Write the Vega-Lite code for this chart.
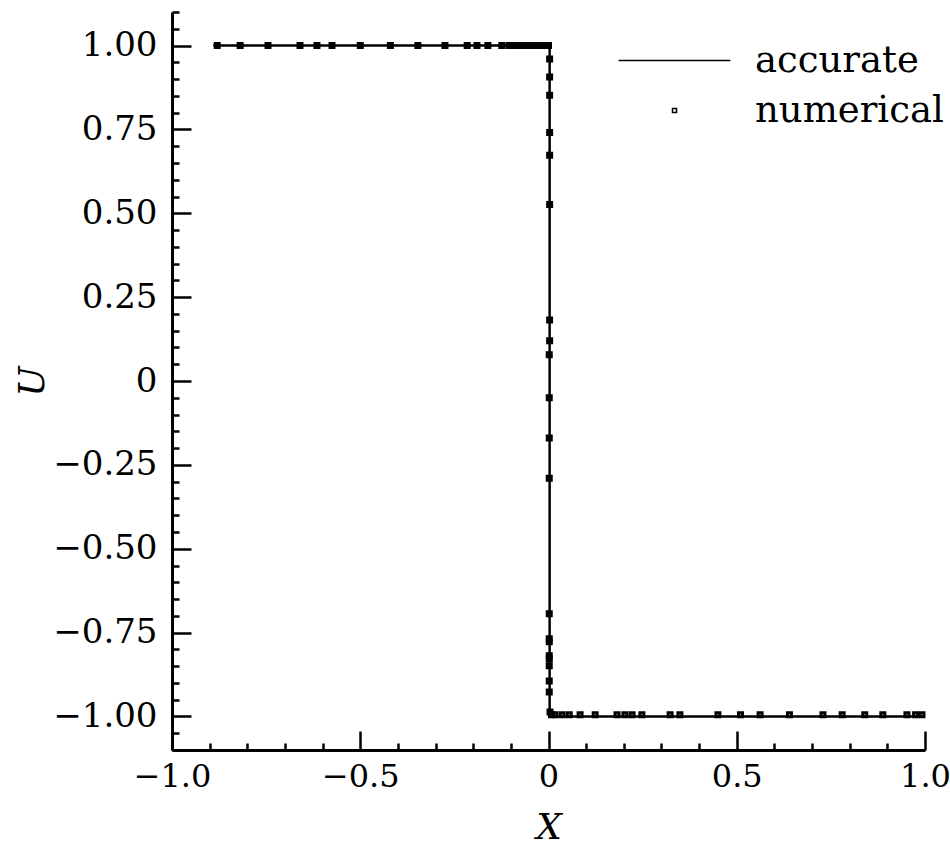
{
  "$schema": "https://vega.github.io/schema/vega-lite/v6.json",
  "width": 753,
  "height": 738,
  "autosize": "none",
  "padding": {"left": 172, "top": 12, "right": 25, "bottom": 104},
  "background": "white",
  "config": {
    "view": {"stroke": null},
    "font": "DejaVu Serif",
    "axis": {
      "domainColor": "black",
      "domainWidth": 3,
      "tickColor": "black",
      "tickWidth": 2.5,
      "labelColor": "black",
      "labelFont": "DejaVu Serif",
      "labelFontSize": 34,
      "labelFontWeight": "normal",
      "titleColor": "black",
      "titleFont": "DejaVu Serif",
      "titleFontSize": 36,
      "titleFontStyle": "italic",
      "titleFontWeight": "normal",
      "grid": false,
      "labelOverlap": false,
      "labelBound": false,
      "labelFlush": false,
      "tickCount": 200
    }
  },
  "resolve": {"axis": {"x": "independent", "y": "independent"}},
  "datasets": {
    "accurate": [
      {"i": 1, "x": -0.89, "u": 1.0, "series": "accurate"},
      {"i": 2, "x": 0.003, "u": 1.0, "series": "accurate"},
      {"i": 3, "x": 0.003, "u": -1.0, "series": "accurate"},
      {"i": 4, "x": 1.0, "u": -1.0, "series": "accurate"}
    ],
    "numericalLeft": [
      {"x": -0.88, "u": 1.0, "series": "numerical"},
      {"x": -0.819, "u": 1.0, "series": "numerical"},
      {"x": -0.745, "u": 1.0, "series": "numerical"},
      {"x": -0.66, "u": 1.0, "series": "numerical"},
      {"x": -0.615, "u": 1.0, "series": "numerical"},
      {"x": -0.575, "u": 1.0, "series": "numerical"},
      {"x": -0.5, "u": 1.0, "series": "numerical"},
      {"x": -0.42, "u": 1.0, "series": "numerical"},
      {"x": -0.347, "u": 1.0, "series": "numerical"},
      {"x": -0.275, "u": 1.0, "series": "numerical"},
      {"x": -0.216, "u": 1.0, "series": "numerical"},
      {"x": -0.19, "u": 1.0, "series": "numerical"},
      {"x": -0.161, "u": 1.0, "series": "numerical"},
      {"x": -0.124, "u": 1.0, "series": "numerical"},
      {"x": -0.105, "u": 1.0, "series": "numerical"},
      {"x": -0.09, "u": 1.0, "series": "numerical"},
      {"x": -0.075, "u": 1.0, "series": "numerical"},
      {"x": -0.06, "u": 1.0, "series": "numerical"},
      {"x": -0.045, "u": 1.0, "series": "numerical"},
      {"x": -0.03, "u": 1.0, "series": "numerical"},
      {"x": -0.018, "u": 1.0, "series": "numerical"},
      {"x": -0.008, "u": 1.0, "series": "numerical"},
      {"x": 0.0, "u": 1.0, "series": "numerical"},
      {"x": 0.003, "u": 0.96, "series": "numerical"},
      {"x": 0.003, "u": 0.906, "series": "numerical"},
      {"x": 0.003, "u": 0.852, "series": "numerical"},
      {"x": 0.003, "u": 0.741, "series": "numerical"},
      {"x": 0.003, "u": 0.673, "series": "numerical"},
      {"x": 0.003, "u": 0.526, "series": "numerical"},
      {"x": 0.003, "u": 0.182, "series": "numerical"},
      {"x": 0.003, "u": 0.12, "series": "numerical"},
      {"x": 0.002, "u": 0.078, "series": "numerical"},
      {"x": 0.002, "u": -0.05, "series": "numerical"},
      {"x": 0.002, "u": -0.17, "series": "numerical"},
      {"x": 0.002, "u": -0.29, "series": "numerical"},
      {"x": 0.002, "u": -0.694, "series": "numerical"},
      {"x": 0.002, "u": -0.768, "series": "numerical"},
      {"x": 0.002, "u": -0.777, "series": "numerical"},
      {"x": 0.002, "u": -0.819, "series": "numerical"},
      {"x": 0.002, "u": -0.828, "series": "numerical"},
      {"x": 0.002, "u": -0.849, "series": "numerical"},
      {"x": 0.002, "u": -0.894, "series": "numerical"},
      {"x": 0.002, "u": -0.927, "series": "numerical"},
      {"x": 0.004, "u": -0.987, "series": "numerical"}
    ],
    "numericalRight": [
      {"x": 0.008, "u": -0.995, "series": "numerical"},
      {"x": 0.017, "u": -0.995, "series": "numerical"},
      {"x": 0.036, "u": -0.995, "series": "numerical"},
      {"x": 0.055, "u": -0.995, "series": "numerical"},
      {"x": 0.084, "u": -0.995, "series": "numerical"},
      {"x": 0.124, "u": -0.995, "series": "numerical"},
      {"x": 0.182, "u": -0.995, "series": "numerical"},
      {"x": 0.203, "u": -0.995, "series": "numerical"},
      {"x": 0.222, "u": -0.995, "series": "numerical"},
      {"x": 0.248, "u": -0.995, "series": "numerical"},
      {"x": 0.323, "u": -0.995, "series": "numerical"},
      {"x": 0.349, "u": -0.995, "series": "numerical"},
      {"x": 0.45, "u": -0.995, "series": "numerical"},
      {"x": 0.51, "u": -0.995, "series": "numerical"},
      {"x": 0.562, "u": -0.995, "series": "numerical"},
      {"x": 0.64, "u": -0.995, "series": "numerical"},
      {"x": 0.729, "u": -0.995, "series": "numerical"},
      {"x": 0.78, "u": -0.995, "series": "numerical"},
      {"x": 0.84, "u": -0.995, "series": "numerical"},
      {"x": 0.888, "u": -0.995, "series": "numerical"},
      {"x": 0.952, "u": -0.995, "series": "numerical"},
      {"x": 0.975, "u": -0.995, "series": "numerical"},
      {"x": 0.992, "u": -0.995, "series": "numerical"}
    ]
  },
  "layer": [
    {
      "data": {"name": "accurate"},
      "mark": {"type": "line", "color": "black", "strokeWidth": 2.5},
      "encoding": {
        "x": {
          "field": "x",
          "type": "quantitative",
          "scale": {"domain": [-1, 1], "nice": false, "zero": false},
          "axis": {
            "orient": "bottom",
            "title": "X",
            "values": [-1, -0.5, 0, 0.5, 1],
            "labelExpr": "datum.value == 0 ? '0' : replace(format(datum.value, '.1f'), '-', '\u2212')",
            "labelFontSize": 32,
            "ticks": false,
            "tickSize": 0,
            "labelPadding": 11,
            "titlePadding": 18
          }
        },
        "y": {
          "field": "u",
          "type": "quantitative",
          "scale": {"domain": [-1.1, 1.1], "nice": false, "zero": false},
          "axis": {
            "orient": "left",
            "title": "U",
            "values": [-1, -0.75, -0.5, -0.25, 0, 0.25, 0.5, 0.75, 1],
            "labelExpr": "datum.value == 0 ? '0' : replace(format(datum.value, '.2f'), '-', '\u2212')",
            "ticks": false,
            "tickSize": 0,
            "labelPadding": 15,
            "titlePadding": 1
          }
        },
        "order": {"field": "i", "type": "quantitative"}
      }
    },
    {
      "data": {"name": "numericalLeft"},
      "mark": {"type": "point", "filled": false, "color": "black", "opacity": 1, "strokeWidth": 3},
      "encoding": {
        "x": {
          "field": "x",
          "type": "quantitative",
          "axis": {
            "orient": "top",
            "offset": -738,
            "title": null,
            "labels": false,
            "domain": false,
            "values": [-1, -0.5, 0, 0.5, 1],
            "tickSize": 19
          }
        },
        "y": {
          "field": "u",
          "type": "quantitative",
          "axis": {
            "orient": "right",
            "offset": -753,
            "title": null,
            "labels": false,
            "domain": false,
            "values": [-1, -0.75, -0.5, -0.25, 0, 0.25, 0.5, 0.75, 1],
            "tickSize": 19
          }
        },
        "shape": {
          "field": "series",
          "type": "nominal",
          "scale": {"domain": ["accurate", "numerical"], "range": ["M-5,0L5,0", "square"]},
          "legend": {
            "title": null,
            "orient": "none",
            "legendX": 484,
            "legendY": 30,
            "labelFont": "DejaVu Serif",
            "labelFontSize": 37,
            "labelColor": "black",
            "labelOffset": 62,
            "labelLimit": 400,
            "rowPadding": 12,
            "symbolStrokeColor": "black",
            "symbolStrokeWidth": 1.5,
            "symbolOpacity": 1
          }
        },
        "size": {
          "field": "series",
          "type": "nominal",
          "scale": {"domain": ["accurate", "numerical"], "range": [500, 16]}
        }
      }
    },
    {
      "data": {"name": "numericalRight"},
      "mark": {"type": "point", "filled": false, "color": "black", "opacity": 1, "strokeWidth": 3},
      "encoding": {
        "x": {
          "field": "x",
          "type": "quantitative",
          "axis": {
            "orient": "top",
            "offset": -738,
            "title": null,
            "labels": false,
            "domain": false,
            "values": [-0.9, -0.8, -0.7, -0.6, -0.4, -0.3, -0.2, -0.1, 0.1, 0.2, 0.3, 0.4, 0.6, 0.7, 0.8, 0.9],
            "tickSize": 7
          }
        },
        "y": {
          "field": "u",
          "type": "quantitative",
          "axis": {
            "orient": "right",
            "offset": -753,
            "title": null,
            "labels": false,
            "domain": false,
            "values": [-1.1, -1.05, -0.95, -0.9, -0.85, -0.8, -0.7, -0.65, -0.6, -0.55, -0.45, -0.4, -0.35, -0.3, -0.2, -0.15, -0.1, -0.05, 0.05, 0.1, 0.15, 0.2, 0.3, 0.35, 0.4, 0.45, 0.55, 0.6, 0.65, 0.7, 0.8, 0.85, 0.9, 0.95, 1.05, 1.1],
            "tickSize": 7
          }
        },
        "shape": {
          "field": "series",
          "type": "nominal",
          "scale": {"domain": ["accurate", "numerical"], "range": ["M-5,0L5,0", "square"]},
          "legend": {
            "title": null,
            "orient": "none",
            "legendX": 484,
            "legendY": 30,
            "labelFont": "DejaVu Serif",
            "labelFontSize": 37,
            "labelColor": "black",
            "labelOffset": 62,
            "labelLimit": 400,
            "rowPadding": 12,
            "symbolStrokeColor": "black",
            "symbolStrokeWidth": 1.5,
            "symbolOpacity": 1
          }
        },
        "size": {
          "field": "series",
          "type": "nominal",
          "scale": {"domain": ["accurate", "numerical"], "range": [500, 16]}
        }
      }
    }
  ]
}
